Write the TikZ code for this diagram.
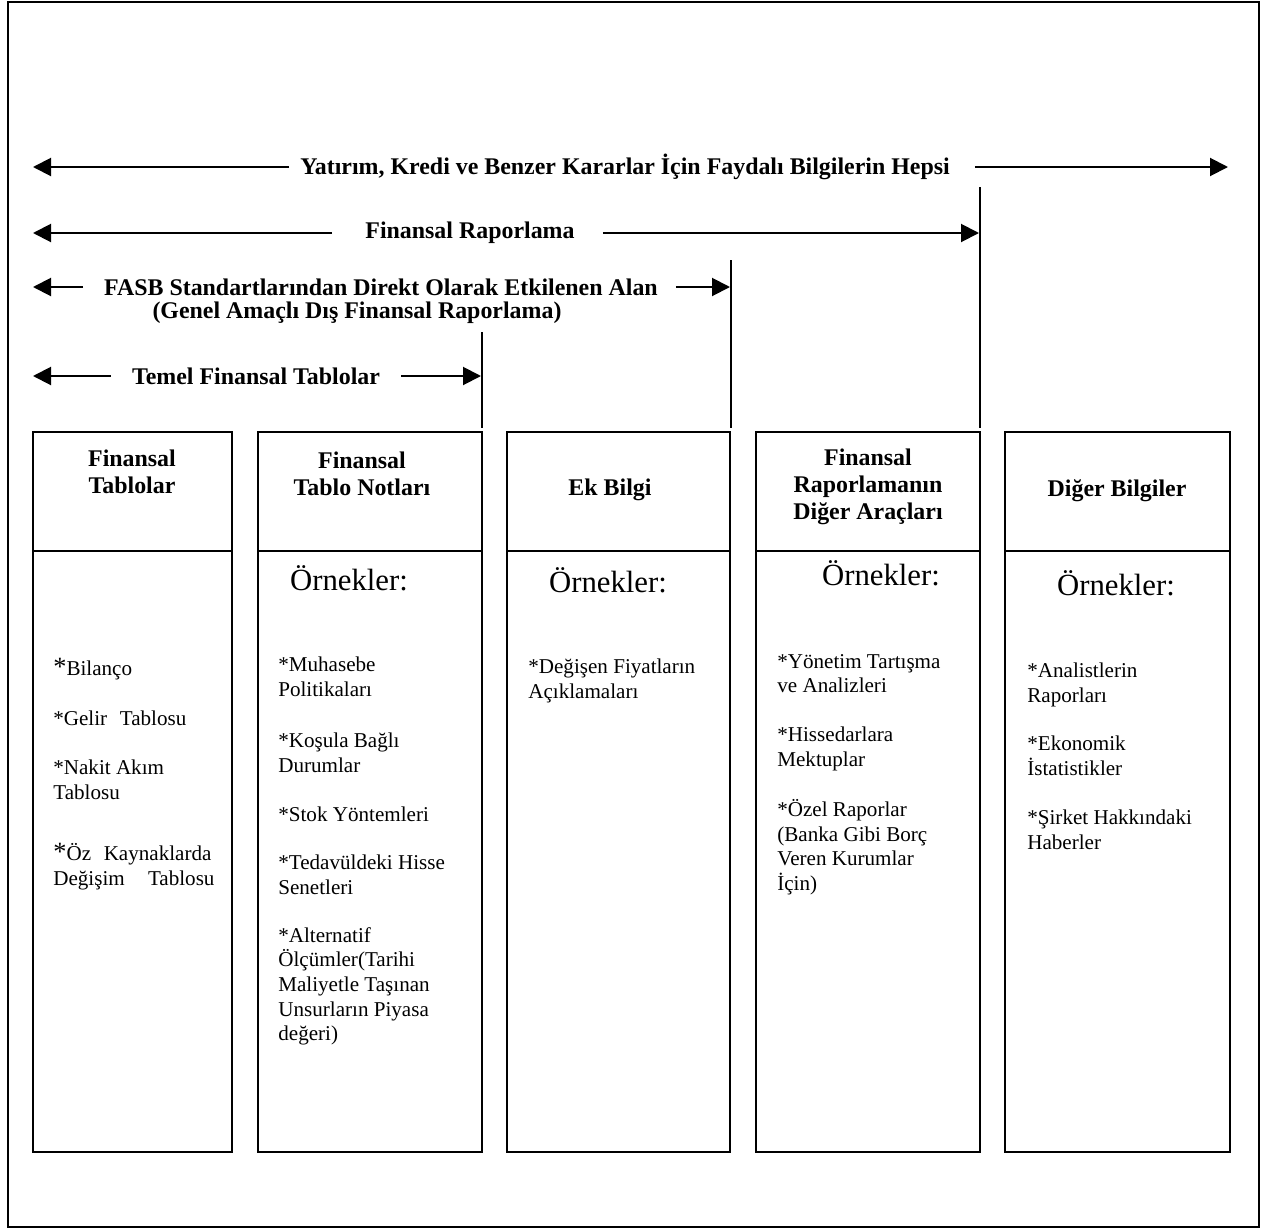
\documentclass[tikz,border=0pt]{standalone}
\usepackage{fontspec}
\setmainfont{Liberation Serif}
\usetikzlibrary{arrows.meta}
\tikzset{>={Triangle[width=3.6mm,length=3.6mm]}}
\tikzset{
  baslik/.style={font=\fontsize{13.6}{15.5}\selectfont\bfseries, align=center},
  ornek/.style={font=\fontsize{17.5}{20}\selectfont},
  madde/.style={font=\fontsize{12}{14}\selectfont, align=left, anchor=north west, inner sep=0pt, execute at begin node=\strut},
  kutu/.style={draw, line width=0.4mm},
  ok/.style={line width=0.4mm, ->},
  dikey/.style={line width=0.3mm}
}

\begin{document}
\begin{tikzpicture}[x=0.2mm,y=-0.2mm]
\useasboundingbox (0,0) rectangle (1271,1231);
%Dis cerceve
\draw [line width=0.3mm] (8,2) rectangle (1259,1227);

%Yatirim, kredi ... hepsi
\node[baslik] (hepsi) at (625,167) {Yatırım, Kredi ve Benzer Kararlar İçin Faydalı Bilgilerin Hepsi};
\coordinate (hepsiSol) at (33,167);
\coordinate (hepsiSag) at (1228,167);
\draw [ok, shorten <=1mm] (hepsi.west) -- (hepsiSol);
\draw [ok, shorten <=3.8mm] (hepsi.east) -- (hepsiSag);

%Finansal raporlama
\node[baslik] (finrap) at (470,233) {Finansal Raporlama};
\coordinate (finrapSol) at (33,233);
\coordinate (finrapSag) at (979,233);
\draw [ok, shorten <=5.4mm] (finrap.west) -- (finrapSol);
\draw [ok, shorten <=4.4mm] (finrap.east) -- (finrapSag);

%FASB standartlari
\node[baslik] (fasb) at (381,287) {FASB Standartlarından Direkt Olarak Etkilenen Alan};
\node[baslik] (genel) at (357,313) {(Genel Amaçlı Dış Finansal Raporlama)};
\coordinate (fasbSol) at (33,287);
\coordinate (fasbSag) at (730,287);
\draw [ok, shorten <=3mm] (fasb.west) -- (fasbSol);
\draw [ok, shorten <=2.4mm] (fasb.east) -- (fasbSag);

%Temel finansal tablolar
\node[baslik] (temel) at (256,376) {Temel Finansal Tablolar};
\coordinate (temelSol) at (33,376);
\coordinate (temelSag) at (481,376);
\draw [ok, shorten <=3mm] (temel.west) -- (temelSol);
\draw [ok, shorten <=3mm] (temel.east) -- (temelSag);

%Dikey sinir cizgileri
\draw [dikey] (980,187) -- (980,428);
\draw [dikey] (731,260) -- (731,428);
\draw [dikey] (482,332) -- (482,428);

%Birinci kutu
\draw [kutu] (33,432) rectangle (232,1152);
\draw [kutu] (33,551) -- (232,551);
\node[baslik] (b1) at (132,472) {Finansal\\Tablolar};
\node[madde] (m11) at (53,658) {{\fontsize{15}{14}\selectfont*}Bilanço};
\node[madde] (m12) at (53,708) {*Gelir\hspace{0.6em}Tablosu};
\node[madde] (m13) at (53,760) {*Nakit Akım\\Tablosu};
\node[madde] (m14) at (53,843) {{\fontsize{15}{14}\selectfont*}Öz\hspace{0.6em}Kaynaklarda\\Değişim\hspace{1.1em}Tablosu};

%Ikinci kutu
\draw [kutu] (258,432) rectangle (482,1152);
\draw [kutu] (258,551) -- (482,551);
\node[baslik] (b2) at (362,474) {Finansal\\Tablo Notları};
\node[ornek] (o2) at (349,578) {Örnekler:};
\node[madde] (m21) at (278,657) {*Muhasebe\\Politikaları};
\node[madde] (m22) at (278,733) {*Koşula Bağlı\\Durumlar};
\node[madde] (m23) at (278,804) {*Stok Yöntemleri};
\node[madde] (m24) at (278,855) {*Tedavüldeki Hisse\\Senetleri};
\node[madde] (m25) at (278,927) {*Alternatif\\Ölçümler(Tarihi\\Maliyetle Taşınan\\Unsurların Piyasa\\değeri)};

%Ucuncu kutu
\draw [kutu] (507,432) rectangle (730,1152);
\draw [kutu] (507,551) -- (730,551);
\node[baslik] (b3) at (610,490) {Ek Bilgi};
\node[ornek] (o3) at (608,580) {Örnekler:};
\node[madde] (m31) at (528,659) {*Değişen Fiyatların\\Açıklamaları};

%Dorduncu kutu
\draw [kutu] (756,432) rectangle (980,1152);
\draw [kutu] (756,551) -- (980,551);
\node[baslik] (b4) at (868,487) {Finansal\\Raporlamanın\\Diğer Araçları};
\node[ornek] (o4) at (881,573) {Örnekler:};
\node[madde] (m41) at (777,654) {*Yönetim Tartışma\\ve Analizleri};
\node[madde] (m42) at (777,727) {*Hissedarlara\\Mektuplar};
\node[madde] (m43) at (777,799) {*Özel Raporlar\\(Banka Gibi Borç\\Veren Kurumlar\\İçin)};

%Besinci kutu
\draw [kutu] (1005,432) rectangle (1230,1152);
\draw [kutu] (1005,551) -- (1230,551);
\node[baslik] (b5) at (1117,491) {Diğer Bilgiler};
\node[ornek] (o5) at (1116,583) {Örnekler:};
\node[madde] (m51) at (1027,663) {*Analistlerin\\Raporları};
\node[madde] (m52) at (1027,736) {*Ekonomik\\İstatistikler};
\node[madde] (m53) at (1027,810) {*Şirket Hakkındaki\\Haberler};

\end{tikzpicture}
\end{document}
